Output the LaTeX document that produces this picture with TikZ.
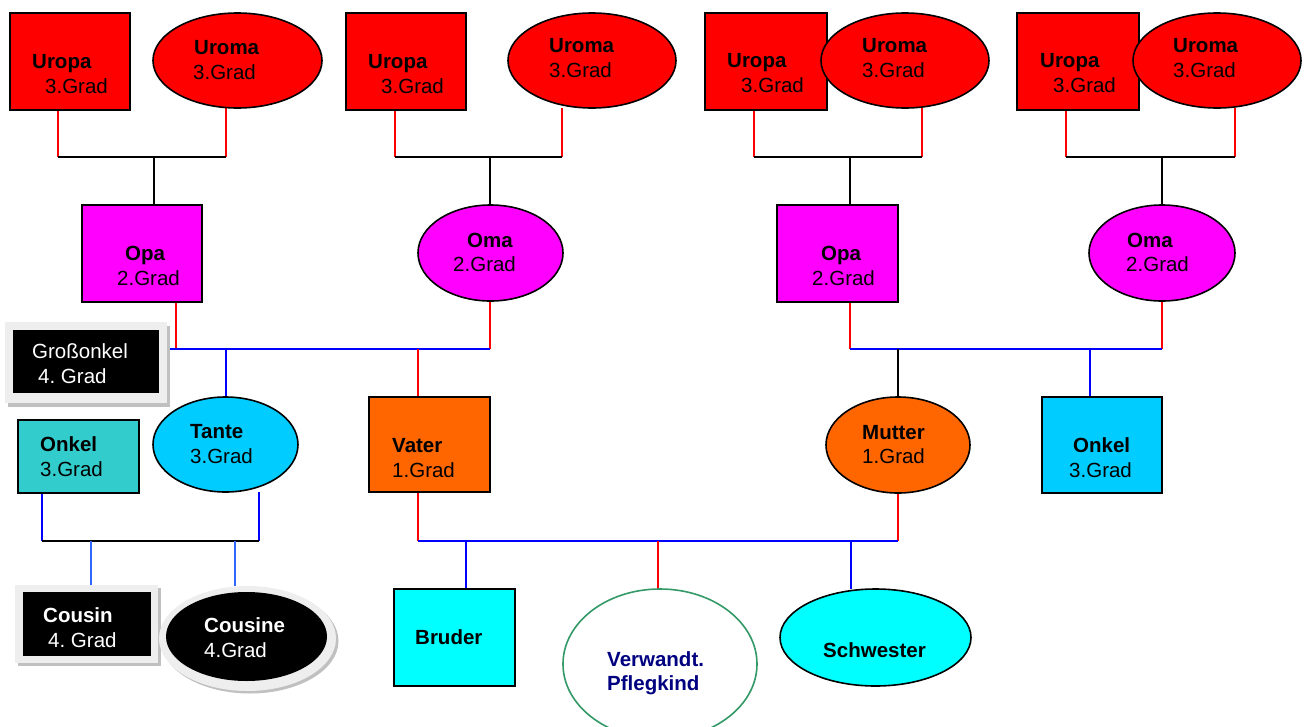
\documentclass[tikz,border=0pt]{standalone}
\usepackage{fontspec}
\setmainfont{Liberation Sans}
\usetikzlibrary{shapes.geometric}
\frenchspacing
\definecolor{cRed}{HTML}{FF0000}
\definecolor{cMag}{HTML}{FF00FF}
\definecolor{cOra}{HTML}{FF6600}
\definecolor{cSky}{HTML}{00CCFF}
\definecolor{cTeal}{HTML}{33CCCC}
\definecolor{cCyan}{HTML}{00FFFF}
\definecolor{cBlue}{HTML}{0000FF}
\definecolor{cLBlue}{HTML}{3366FF}
\definecolor{cGreen}{HTML}{339966}
\definecolor{cNavy}{HTML}{000080}
\definecolor{cFrame}{HTML}{EEEEEE}
\definecolor{cShadow}{HTML}{C0C0C0}
\newcommand\fsz{\fontsize{20.5}{24}\selectfont}
\pgfdeclarelayer{back}
\pgfdeclarelayer{bg}
\pgfsetlayers{back,bg,main}
\begin{document}
\begin{tikzpicture}[x=1pt,y=-1pt,
 shp/.style={draw=black,line width=1.6pt,inner sep=0pt,outer sep=0pt},
 bx/.style={shp,rectangle},
 ov/.style={shp,ellipse},
 flat/.style={inner sep=0pt,outer sep=0pt,draw=none},
 tx/.style={anchor=base west,inner sep=0pt,font=\fsz},
 tb/.style={tx,font=\fsz\bfseries},
 ln/.style={line width=1.3pt},
 rl/.style={ln,draw=cRed}, bl/.style={ln,draw=cBlue}, kl/.style={ln,draw=black}, ll/.style={ln,draw=cLBlue}]
\begin{pgfonlayer}{back}
\fill[white] (0,0) rectangle (1307,726);
\end{pgfonlayer}
\useasboundingbox (0,0) rectangle (1307,726);

% ---------- row 1: Uropa / Uroma ----------
\node[bx,fill=cRed,minimum width=120pt,minimum height=97pt] (up1) at (70,61.5) {};
\node[ov,fill=cRed,minimum width=169pt,minimum height=95pt] (uo1) at (237.5,60.5) {};
\node[bx,fill=cRed,minimum width=120pt,minimum height=97pt] (up2) at (406,61.5) {};
\node[ov,fill=cRed,minimum width=168pt,minimum height=95pt] (uo2) at (592,60.5) {};
\node[bx,fill=cRed,minimum width=122pt,minimum height=97pt] (up3) at (766,61.5) {};
\node[ov,fill=cRed,minimum width=168pt,minimum height=95pt] (uo3) at (905,60.5) {};
\node[bx,fill=cRed,minimum width=122pt,minimum height=97pt] (up4) at (1078,61.5) {};
\node[ov,fill=cRed,minimum width=168pt,minimum height=95pt] (uo4) at (1217,60.5) {};

\node[tb] (t1a) at (32,68) {Uropa};   \node[tx] (t1b) at (45,93) {3.Grad};
\node[tb] (t2a) at (194,54) {Uroma};  \node[tx] (t2b) at (193,79) {3.Grad};
\node[tb] (t3a) at (368,68) {Uropa};  \node[tx] (t3b) at (381,93) {3.Grad};
\node[tb] (t4a) at (549,52) {Uroma};  \node[tx] (t4b) at (549,77) {3.Grad};
\node[tb] (t5a) at (727,67) {Uropa};  \node[tx] (t5b) at (741,92) {3.Grad};
\node[tb] (t6a) at (862,52) {Uroma};  \node[tx] (t6b) at (862,77) {3.Grad};
\node[tb] (t7a) at (1040,67) {Uropa}; \node[tx] (t7b) at (1053,92) {3.Grad};
\node[tb] (t8a) at (1173,52) {Uroma}; \node[tx] (t8b) at (1173,77) {3.Grad};

% ---------- row 2: Opa / Oma ----------
\node[bx,fill=cMag,minimum width=120pt,minimum height=97pt] (op1) at (142,253.5) {};
\node[ov,fill=cMag,minimum width=145pt,minimum height=96pt] (om1) at (490.5,253) {};
\node[bx,fill=cMag,minimum width=121pt,minimum height=97pt] (op2) at (837.5,253.5) {};
\node[ov,fill=cMag,minimum width=146pt,minimum height=96pt] (om2) at (1162,253) {};

\node[tb] (t9a) at (125,260) {Opa};   \node[tx] (t9b) at (117,285) {2.Grad};
\node[tb] (t10a) at (467,247) {Oma};  \node[tx] (t10b) at (453,271) {2.Grad};
\node[tb] (t11a) at (821,260) {Opa};  \node[tx] (t11b) at (812,285) {2.Grad};
\node[tb] (t12a) at (1127,247) {Oma}; \node[tx] (t12b) at (1126,271) {2.Grad};

% ---------- row 3 ----------
\node[flat,fill=cShadow,minimum width=162pt,minimum height=81pt] (gks) at (88.5,366) {};
\node[flat,fill=cFrame,minimum width=162pt,minimum height=81pt] (gk) at (86,362.5) {};
\node[flat,fill=black,minimum width=146pt,minimum height=63pt] (gki) at (86,361.5) {};
\node[tx,text=white] (t13a) at (32,358) {Großonkel};
\node[tx,text=white] (t13b) at (38,383) {4. Grad};

\node[bx,fill=cTeal,minimum width=121pt,minimum height=73pt] (ol) at (78.5,456.5) {};
\node[tb] (t14a) at (40,451) {Onkel}; \node[tx] (t14b) at (40,476) {3.Grad};

\node[ov,fill=cSky,minimum width=145pt,minimum height=95pt] (ta) at (225.5,444.5) {};
\node[tb] (t15a) at (190,438) {Tante}; \node[tx] (t15b) at (190,463) {3.Grad};

\node[bx,fill=cOra,minimum width=121pt,minimum height=95pt] (va) at (429.5,444.5) {};
\node[tb] (t16a) at (392,452) {Vater}; \node[tx] (t16b) at (392,477) {1.Grad};

\node[ov,fill=cOra,minimum width=144pt,minimum height=96pt] (mu) at (898,445) {};
\node[tb] (t17a) at (862,439) {Mutter}; \node[tx] (t17b) at (862,463) {1.Grad};

\node[bx,fill=cSky,minimum width=120pt,minimum height=96pt] (on) at (1102,445) {};
\node[tb] (t18a) at (1073,452) {Onkel}; \node[tx] (t18b) at (1069,477) {3.Grad};

% ---------- row 4 ----------
\node[flat,fill=cShadow,minimum width=143pt,minimum height=78pt] (cos) at (89.5,627) {};
\node[flat,fill=cFrame,minimum width=143pt,minimum height=78pt] (co) at (86.5,624) {};
\node[flat,fill=black,minimum width=128pt,minimum height=64pt] (coi) at (87,624) {};
\node[tb,text=white] (t19a) at (43,622) {Cousin};
\node[tx,text=white] (t19b) at (48,647) {4. Grad};

\node[flat,ellipse,fill=cShadow,minimum width=177pt,minimum height=105pt] (cns) at (250,641) {};
\node[flat,ellipse,fill=cFrame,minimum width=177pt,minimum height=105pt] (cn) at (247.5,638.5) {};
\node[flat,ellipse,fill=black,minimum width=161pt,minimum height=89pt] (cni) at (246.5,636.5) {};
\node[tb,text=white] (t20a) at (204,632) {Cousine};
\node[tx,text=white] (t20b) at (204,657) {4.Grad};

\node[bx,fill=cCyan,minimum width=121pt,minimum height=97pt] (br) at (454.5,637.5) {};
\node[tb] (t21) at (415,644) {Bruder};

\node[shp,ellipse,draw=cGreen,line width=1.6pt,fill=white,minimum width=194pt,minimum height=150pt] (pk) at (660,664) {};
\node[tb,text=cNavy] (t22a) at (607,666) {Verwandt.};
\node[tb,text=cNavy] (t22b) at (607,690) {Pflegkind};

\node[ov,fill=cCyan,minimum width=191pt,minimum height=97pt] (sw) at (875.5,637.5) {};
\node[tb] (t23) at (823,657) {Schwester};

% ---------- junction coordinates ----------
\coordinate (a1) at (58,157);   \coordinate (b1) at (226,157);  \coordinate (m1) at (154,157);
\coordinate (a2) at (395,157);  \coordinate (b2) at (562,157);  \coordinate (m2) at (490,157);
\coordinate (a3) at (754,157);  \coordinate (b3) at (922,157);  \coordinate (m3) at (850,157);
\coordinate (a4) at (1066,157); \coordinate (b4) at (1235,157); \coordinate (m4) at (1162,157);

\coordinate (la) at (176,349);  \coordinate (lb) at (490,349);
\coordinate (lt) at (226,349);  \coordinate (lv) at (418,349);
\coordinate (ra) at (850,349);  \coordinate (rb) at (1162,349);
\coordinate (rm) at (898,349);  \coordinate (ro) at (1090,349);

\coordinate (ca) at (42,541);   \coordinate (cb) at (259,541);
\coordinate (cc) at (91,541);   \coordinate (cd) at (235,541);

\coordinate (ka) at (418,541);  \coordinate (kb) at (898,541);
\coordinate (kc) at (466,541);  \coordinate (kd) at (658,541);  \coordinate (ke) at (851,541);

\begin{pgfonlayer}{bg}
% row 1 -> row 2
\draw[rl] (up1.south -| a1) -- (a1); \draw[rl] (uo1.south -| b1) -- (b1);
\draw[kl] (a1) -- (b1); \draw[kl] (m1) -- (op1.north -| m1);
\draw[rl] (up2.south -| a2) -- (a2); \draw[rl] (uo2.south -| b2) -- (b2);
\draw[kl] (a2) -- (b2); \draw[kl] (m2) -- (om1.north -| m2);
\draw[rl] (up3.south -| a3) -- (a3); \draw[rl] (uo3.south -| b3) -- (b3);
\draw[kl] (a3) -- (b3); \draw[kl] (m3) -- (op2.north -| m3);
\draw[rl] (up4.south -| a4) -- (a4); \draw[rl] (uo4.south -| b4) -- (b4);
\draw[kl] (a4) -- (b4); \draw[kl] (m4) -- (om2.north -| m4);
% row 2 -> row 3
\draw[rl] (op1.south -| la) -- (la); \draw[rl] (om1.south -| lb) -- (lb);
\draw[bl] (gk.east |- la) -- (lb);
\draw[bl] (lt) -- (ta.north -| lt);
\draw[rl] (lv) -- (va.north -| lv);
\draw[rl] (op2.south -| ra) -- (ra); \draw[rl] (om2.south -| rb) -- (rb);
\draw[bl] (ra) -- (rb);
\draw[kl] (rm) -- (mu.north -| rm);
\draw[bl] (ro) -- (on.north -| ro);
% row 3 -> row 4 (cousins)
\draw[bl] (ol.south -| ca) -- (ca); \draw[bl] (ta.south -| cb) -- (cb);
\draw[kl] (ca) -- (cb);
\draw[ll] (cc) -- (co.north -| cc);
\draw[ll] (cd) -- (cn.north -| cd);
% parents -> children
\draw[rl] (va.south -| ka) -- (ka); \draw[rl] (mu.south -| kb) -- (kb);
\draw[bl] (ka) -- (kb);
\draw[bl] (kc) -- (br.north -| kc);
\draw[rl] (kd) -- (pk.north -| kd);
\draw[bl] (ke) -- (sw.north -| ke);
\end{pgfonlayer}
\end{tikzpicture}
\end{document}
